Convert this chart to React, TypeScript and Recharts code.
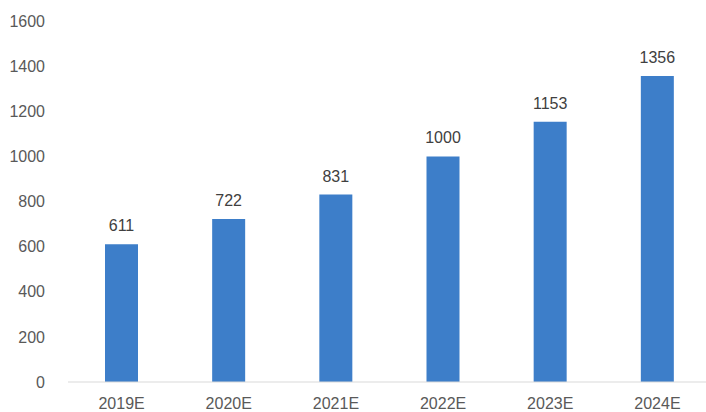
import { BarChart, Bar, XAxis, YAxis, LabelList } from 'recharts'

// Forecast values per year
const years = ['2019E', '2020E', '2021E', '2022E', '2023E', '2024E']
const values = [611, 722, 831, 1000, 1153, 1356]
const yTicks = [0, 200, 400, 600, 800, 1000, 1200, 1400, 1600]

const data = years.map((year, i) => ({ year, value: values[i] }))

const font = '"Liberation Sans", Arial, sans-serif'

export default function App() {
  return (
    <div
      style={{
        position: 'absolute',
        left: 0,
        top: 0,
        width: 706,
        height: 412,
        overflow: 'hidden',
        background: '#ffffff',
        fontFamily: font,
      }}
    >
      <BarChart
        width={711}
        height={412}
        data={data}
        margin={{ top: 21, right: 0, left: 0, bottom: 0 }}
      >
        <XAxis
          dataKey="year"
          height={30}
          tickLine={false}
          tickMargin={10}
          axisLine={{ stroke: '#d9d9d9', strokeWidth: 1 }}
          tick={{ fill: '#595959', fontSize: 16, fontFamily: font }}
          interval={0}
        />
        <YAxis
          width={68}
          domain={[0, 1600]}
          ticks={yTicks}
          axisLine={false}
          tickLine={false}
          tickMargin={17}
          tick={{ fill: '#595959', fontSize: 16, fontFamily: font }}
        />
        <Bar dataKey="value" fill="#3d7ec9" barSize={33} isAnimationActive={false}>
          <LabelList
            dataKey="value"
            position="top"
            offset={13}
            fill="#404040"
            fontSize={16}
            fontFamily={font}
          />
        </Bar>
      </BarChart>
    </div>
  )
}
